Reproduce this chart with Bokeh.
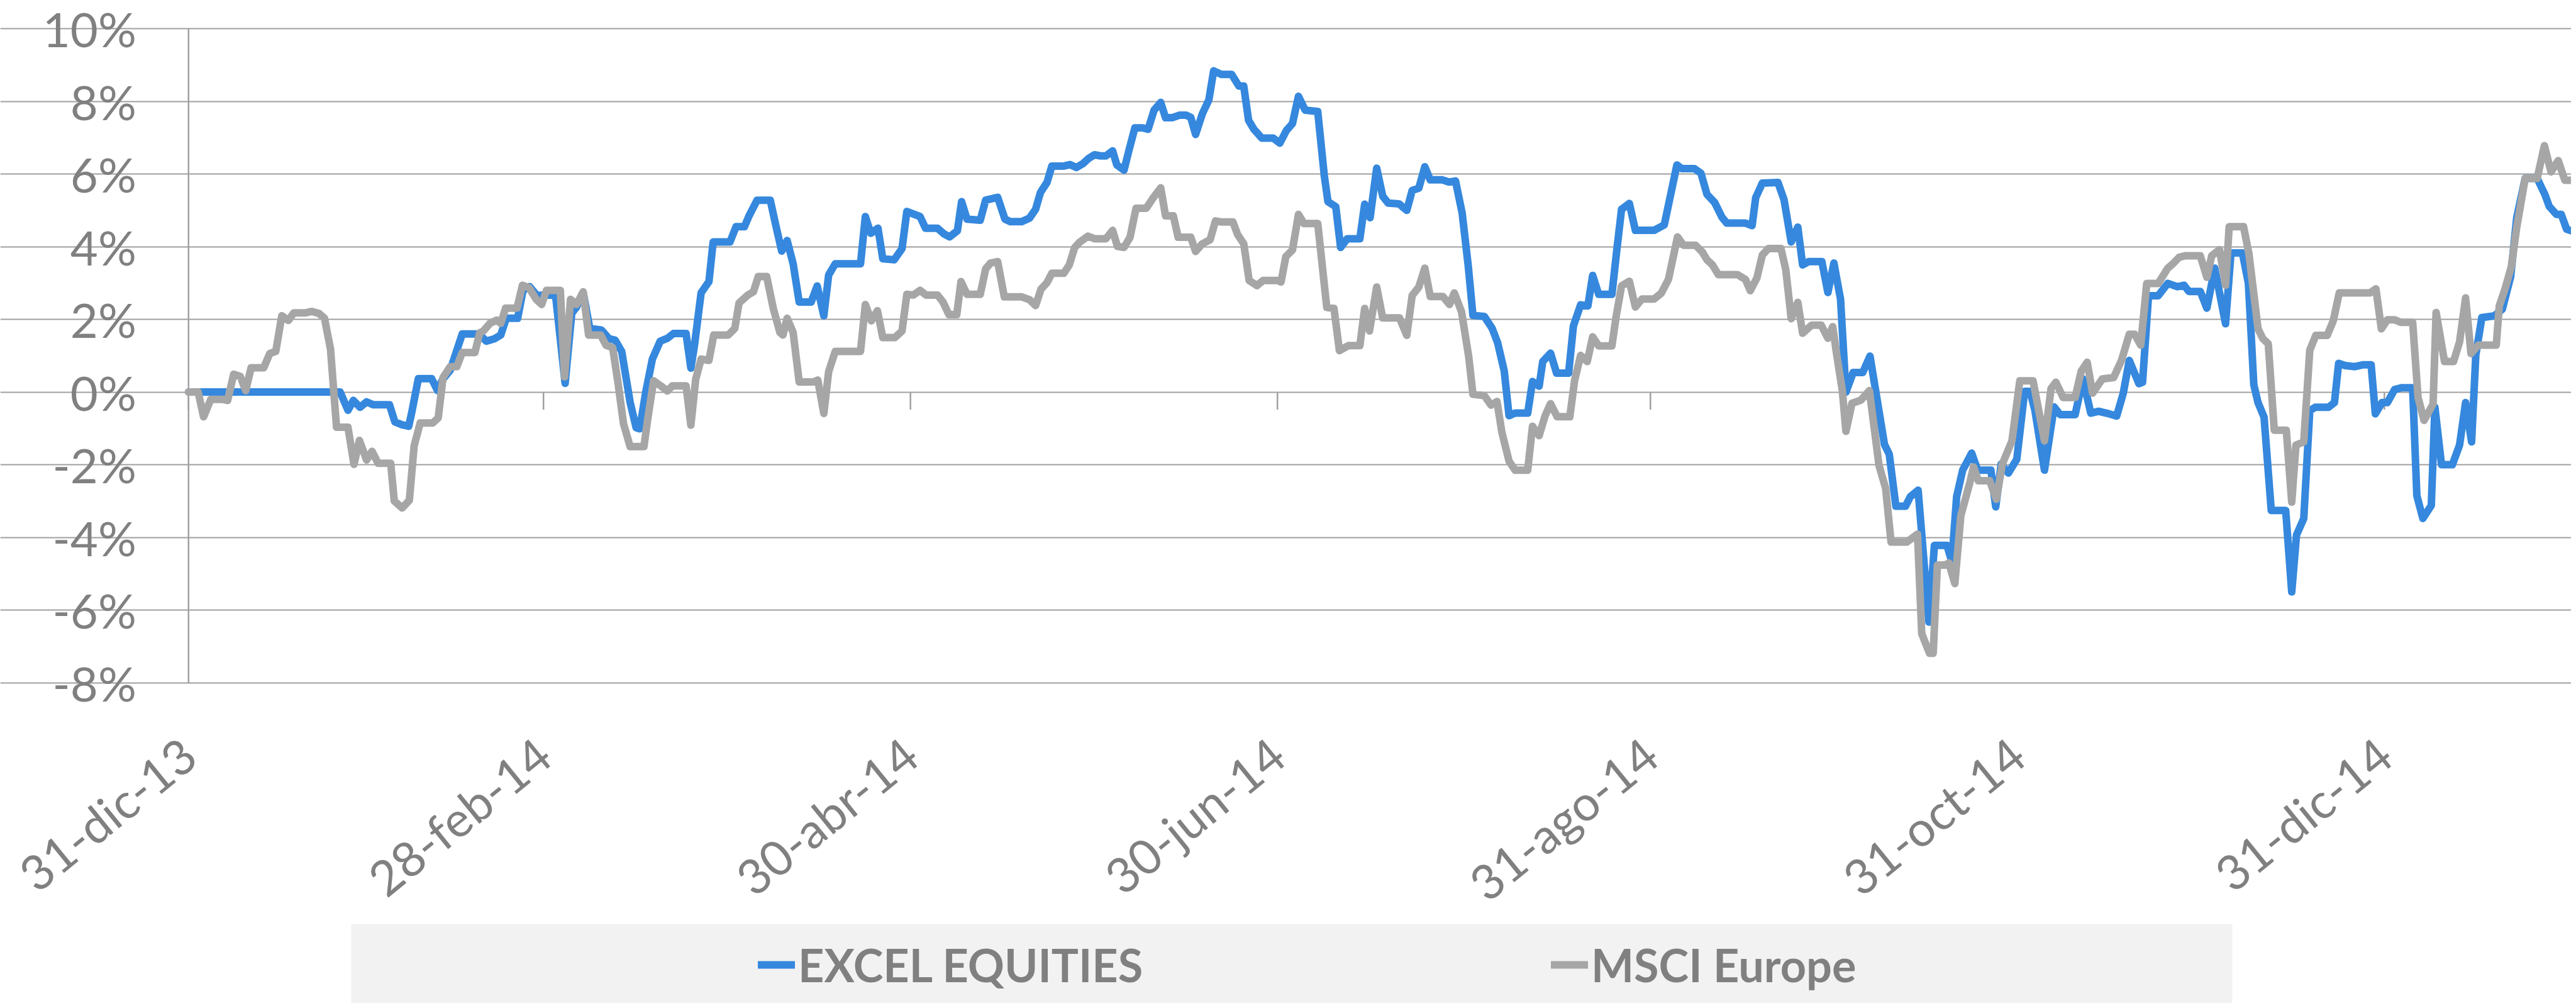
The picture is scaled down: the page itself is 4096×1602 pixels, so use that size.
import math
from bokeh.plotting import figure
from bokeh.models import (Range1d, FixedTicker, Legend, LegendItem, Grid,
                          ColumnDataSource, BoxAnnotation)
from bokeh.core.properties import value
from bokeh.embed import file_html
from bokeh.resources import INLINE

# ---------------- data (day offset from 31-dic-13, cumulative return in %) ----------------
EXCEL_DAYS = [0, 25.2, 26.5, 27.4, 28.5, 29.6, 30.7, 33.4, 34.3, 35.5, 36.6, 37.1, 38.2, 40.4, 41.4, 42.2,
              43.5, 45.5, 47.9, 48.3, 49.5, 50.9, 51.9, 52.8, 54.7, 55.6, 56.7, 57.9, 59.2, 61.0, 62.6,
              63.7, 64.5, 65.6, 66.7, 68.6, 69.9, 70.9, 72.0, 73.4, 74.4, 75.0, 76.0, 77.1, 78.4, 79.6,
              80.6, 82.7, 83.5, 84.1, 85.2, 86.5, 87.2, 90.0, 91.0, 92.4, 93.2, 94.5, 96.7, 97.6, 98.6,
              99.5, 100.5, 101.5, 103.5, 104.5, 105.6, 106.4, 107.5, 111.7, 112.5, 113.4, 114.6, 115.4,
              117.3, 118.6, 119.4, 121.6, 122.5, 124.5, 125.6, 126.5, 127.8, 128.5, 129.4, 131.6, 132.5,
              134.5, 135.7, 136.6, 138.5, 139.8, 140.8, 141.6, 142.7, 143.5, 145.5, 146.5, 147.6, 148.7,
              149.6, 150.6, 151.6, 152.5, 153.6, 154.3, 155.5, 156.3, 157.3, 158.6, 159.5, 160.5, 161.6,
              162.4, 163.5, 164.7, 165.8, 166.6, 167.4, 168.5, 169.6, 170.4, 171.7, 173.4, 174.6, 175.4,
              176.2, 177.1, 178.4, 180.3, 181.4, 182.5, 183.5, 184.5, 185.6, 187.7, 188.8, 189.4, 190.7,
              191.5, 192.6, 194.7, 195.5, 196.4, 197.5, 198.5, 199.4, 201.2, 202.5, 203.4, 204.5, 205.5,
              206.4, 208.4, 209.5, 210.6, 211.7, 212.7, 213.5, 215.4, 216.7, 217.6, 218.7, 219.5, 220.5,
              222.6, 223.4, 224.5, 225.1, 226.4, 227.4, 229.4, 230.2, 231.4, 232.6, 233.4, 234.4, 236.6,
              237.4, 238.2, 239.5, 240.5, 243.6, 244.6, 245.3, 247.4, 248.2, 250.3, 251.4, 252.4, 253.7,
              254.9, 255.7, 258.8, 259.9, 260.5, 261.6, 264.2, 265.2, 266.4, 267.5, 268.3, 269.3, 271.5,
              272.5, 273.5, 274.6, 275.5, 276.7, 278.3, 279.5, 281.1, 281.9, 282.7, 283.8, 285.4, 286.2,
              287.5, 289.3, 290.2, 292.3, 293.1, 293.9, 294.9, 296.4, 297.4, 299.6, 300.4, 301.3, 302.5,
              303.9, 305.2, 306.1, 306.9, 308.5, 310.1, 311.1, 313.6, 314.9, 316.2, 317.5, 318.8, 320.5,
              321.6, 322.6, 324.2, 324.8, 325.8, 327.4, 329.0, 330.6, 331.7, 332.5, 334.4, 335.5, 336.8,
              338.6, 339.5, 341.4, 342.4, 343.3, 344.0, 345.0, 346.2, 348.6, 349.6, 350.4, 351.6, 352.6,
              353.5, 355.7, 356.7, 357.4, 358.5, 360.1, 361.4, 362.8, 363.5, 364.6, 365.5, 366.7, 367.9,
              369.7, 370.4, 371.4, 372.8, 373.4, 374.5, 376.3, 377.5, 378.5, 379.5, 380.2, 381.2, 383.3,
              384.6, 386.0, 387.0, 388.4, 390.4, 391.7, 392.4, 393.6, 394.4, 395.3, 396.1]
EXCEL_VALUES = [0, 0, -0.5, -0.23, -0.42, -0.27, -0.35, -0.35, -0.82, -0.9, -0.94, -0.56, 0.37, 0.37, 0.04, 0.34,
                0.6, 1.6, 1.6, 1.6, 1.4, 1.47, 1.57, 2.03, 2.03, 2.8, 2.9, 2.66, 2.67, 2.67, 0.24,
                2.17, 2.34, 2.73, 1.75, 1.71, 1.47, 1.43, 1.12, -0.28, -0.98, -1.01, 0.0, 0.91, 1.4, 1.48,
                1.61, 1.61, 0.66, 1.29, 2.73, 3.04, 4.13, 4.13, 4.55, 4.55, 4.86, 5.28, 5.28, 4.6, 3.88,
                4.17, 3.53, 2.48, 2.48, 2.92, 2.1, 3.22, 3.53, 3.53, 4.83, 4.37, 4.51, 3.67,
                3.64, 3.95, 4.97, 4.83, 4.51, 4.51, 4.35, 4.27, 4.44, 5.24, 4.76, 4.73, 5.28,
                5.36, 4.76, 4.69, 4.69, 4.79, 5.03, 5.49, 5.77, 6.22, 6.22, 6.26, 6.18, 6.29,
                6.43, 6.53, 6.5, 6.5, 6.64, 6.25, 6.11, 6.64, 7.27, 7.27, 7.23, 7.76, 7.97,
                7.55, 7.55, 7.62, 7.62, 7.56, 7.09, 7.65, 8.04, 8.84, 8.74, 8.74, 8.42, 8.42,
                7.48, 7.23, 6.99, 6.99, 6.85, 7.2, 7.39, 8.14, 7.76, 7.72, 5.94, 5.24, 5.1,
                3.98, 4.22, 4.22, 5.17, 4.8, 6.16, 5.39, 5.2, 5.18, 5.0, 5.55, 5.61, 6.2,
                5.84, 5.84, 5.78, 5.81, 4.93, 3.5, 2.11, 2.08, 1.75, 1.36, 0.58, -0.65, -0.58,
                -0.58, 0.29, 0.16, 0.84, 1.07, 0.52, 0.52, 1.82, 2.4, 2.37, 3.21, 2.69, 2.69,
                3.89, 5.03, 5.19, 4.45, 4.45, 4.54, 4.6, 6.25, 6.15, 6.15, 6.02, 5.44, 5.21,
                4.81, 4.65, 4.65, 4.58, 5.35, 5.75, 5.77, 5.3, 4.13, 4.54, 3.5, 3.59, 3.59,
                2.74, 3.55, 2.56, 0.0, 0.54, 0.54, 0.99, -0.63, -1.44, -1.71, -3.14, -3.14, -2.88,
                -2.7, -6.33, -4.22, -4.22, -4.67, -2.88, -2.15, -1.68, -2.15, -2.15, -3.16, -1.98, -2.23,
                -1.85, 0.02, 0.02, -0.49, -2.15, -0.41, -0.62, -0.62, 0.36, -0.58, -0.53, -0.58, -0.66,
                -0.03, 0.87, 0.23, 0.27, 2.65, 2.65, 2.99, 2.9, 2.94, 2.77, 2.77, 2.31, 3.41,
                1.88, 3.83, 3.83, 2.99, 0.2, -0.29, -0.69, -3.26, -3.26, -5.5, -3.93, -3.48, -0.51,
                -0.42, -0.42, -0.29, 0.79, 0.73, 0.7, 0.75, 0.75, -0.6, -0.29, -0.29, 0.07, 0.12,
                0.12, -2.85, -3.48, -3.12, -0.42, -2.0, -2.0, -1.46, -0.29, -1.37, 1.02, 2.05, 2.1,
                2.28, 3.18, 4.8, 5.88, 5.88, 5.43, 5.11, 4.89, 4.89, 4.48, 4.44]

MSCI_DAYS = [0, 1.6, 2.5, 3.7, 5.6, 6.5, 7.5, 8.6, 9.5, 10.4, 12.5, 13.5, 14.5, 15.5, 16.6, 17.5, 19.5, 20.5,
             21.7, 22.6, 23.6, 24.6, 26.5, 27.5, 28.4, 29.6, 30.5, 31.5, 33.6, 34.2, 35.5, 36.7, 37.5, 38.5,
             40.6, 41.5, 42.3, 43.5, 44.6, 45.5, 47.6, 48.4, 49.0, 50.1, 51.2, 51.9, 52.7, 54.6, 55.5, 56.6,
             57.8, 58.7, 59.5, 61.8, 62.5, 63.5, 64.5, 65.6, 66.5, 68.5, 69.4, 70.5, 71.4, 72.3, 73.4, 75.7,
             76.3, 77.3, 78.5, 79.6, 80.4, 82.7, 83.5, 84.3, 85.2, 86.5, 87.3, 89.7, 90.8, 91.5, 92.9, 93.9,
             94.7, 96.1, 97.2, 98.3, 98.8, 99.5, 100.5, 101.5, 103.9, 104.6, 105.6, 106.4, 107.5, 111.7, 112.5,
             113.5, 114.5, 115.4, 117.4, 118.6, 119.4, 120.5, 121.6, 122.6, 124.5, 125.4, 126.4, 127.7, 128.4,
             129.4, 131.6, 132.5, 133.3, 134.5, 135.6, 138.5, 139.8, 140.8, 141.7, 142.7, 143.5, 145.5, 146.4,
             147.3, 148.1, 149.5, 150.6, 152.5, 153.6, 154.4, 155.5, 156.5, 157.5, 159.2, 160.2, 161.6, 162.4,
             163.7, 164.5, 166.6, 167.4, 168.5, 169.8, 170.7, 171.7, 173.6, 174.4, 175.4, 176.3, 177.6, 178.6,
             181.0, 181.6, 182.4, 183.5, 184.5, 185.4, 187.7, 189.2, 190.4, 191.3, 192.8, 194.7, 195.5, 196.3,
             197.5, 198.5, 201.3, 202.5, 203.4, 204.5, 205.5, 206.4, 208.5, 209.6, 210.4, 211.6, 212.8, 213.5,
             215.4, 216.5, 217.5, 218.3, 219.5, 220.5, 222.6, 223.4, 224.5, 225.5, 226.4, 227.5, 229.6, 230.4,
             231.4, 232.5, 233.4, 234.4, 236.6, 237.3, 238.2, 239.5, 240.5, 241.6, 243.6, 244.8, 246.0, 247.5,
             248.5, 250.5, 251.6, 252.4, 253.3, 254.3, 257.5, 258.8, 259.6, 260.7, 261.6, 262.6, 264.7, 265.5,
             266.4, 267.5, 268.3, 269.8, 271.4, 272.5, 273.3, 274.0, 274.9, 275.5, 276.5, 278.0, 279.4, 280.2,
             281.0, 282.1, 283.0, 285.6, 287.4, 288.1, 289.4, 290.0, 290.7, 292.0, 292.6, 293.6, 294.6, 296.1,
             296.7, 297.5, 299.4, 300.5, 301.5, 303.1, 304.4, 306.6, 308.5, 309.6, 310.4, 311.6, 313.6, 314.6,
             315.6, 316.5, 318.1, 320.0, 321.3, 322.6, 323.5, 324.5, 325.5, 327.4, 329.0, 329.9, 330.9, 331.9,
             334.4, 335.5, 336.3, 337.6, 338.6, 339.2, 341.6, 342.5, 344.0, 344.8, 345.7, 346.7, 348.7, 349.6,
             350.3, 351.6, 352.6, 353.6, 355.5, 356.5, 357.5, 362.6, 363.6, 364.5, 365.5, 366.7, 367.7, 369.7,
             370.6, 371.6, 373.1, 373.6, 375.0, 376.5, 377.5, 378.5, 379.4, 380.6, 383.6, 384.1, 385.1, 386.1,
             387.0, 388.4, 390.4, 391.6, 392.7, 393.9, 395.0, 396.1]
MSCI_VALUES = [0, 0, -0.68, -0.2, -0.2, -0.23, 0.49, 0.43, 0.04, 0.67, 0.67, 1.06, 1.12, 2.1, 1.97, 2.18, 2.18, 2.22,
               2.16, 2.03, 1.18, -0.97, -0.97, -1.99, -1.33, -1.87, -1.63, -1.96, -1.96, -3.0, -3.19, -2.98, -1.48, -0.85,
               -0.85, -0.71, 0.4, 0.7, 0.7, 1.09, 1.09, 1.63, 1.68, 1.89, 1.98, 1.89, 2.31, 2.31, 2.94, 2.87,
               2.55, 2.41, 2.8, 2.8, 0.42, 2.55, 2.41, 2.76, 1.57, 1.57, 1.29, 1.22, 0.24, -0.87, -1.5, -1.5,
               -0.77, 0.31, 0.17, 0.03, 0.17, 0.17, -0.91, 0.35, 0.91, 0.87, 1.57, 1.57, 1.75, 2.45, 2.66, 2.76,
               3.18, 3.18, 2.3, 1.64, 1.57, 2.03, 1.64, 0.28, 0.28, 0.33, -0.59, 0.56, 1.12, 1.12, 2.41,
               1.96, 2.24, 1.5, 1.5, 1.68, 2.69, 2.67, 2.8, 2.67, 2.67, 2.48, 2.13, 2.13, 3.04,
               2.69, 2.69, 3.39, 3.55, 3.59, 2.62, 2.62, 2.54, 2.38, 2.83, 3.01, 3.27, 3.27, 3.5,
               3.98, 4.12, 4.29, 4.22, 4.22, 4.45, 4.01, 3.98, 4.26, 5.06, 5.06, 5.31, 5.62, 4.85,
               4.85, 4.26, 4.26, 3.87, 4.08, 4.19, 4.71, 4.68, 4.68, 4.33, 4.08, 3.07, 2.93, 3.07,
               3.07, 3.03, 3.73, 3.91, 4.89, 4.64, 4.64, 2.33, 2.3, 1.14, 1.28, 1.28, 2.3, 1.68,
               2.89, 2.04, 2.04, 1.56, 2.66, 2.89, 3.41, 2.63, 2.63, 2.41, 2.73, 2.21, 0.97, -0.06,
               -0.1, -0.36, -0.26, -1.1, -1.9, -2.15, -2.15, -0.94, -1.2, -0.65, -0.32, -0.68, -0.68, 0.32,
               1.01, 0.84, 1.52, 1.27, 1.27, 2.08, 2.92, 3.05, 2.34, 2.56, 2.56, 2.72, 3.1, 4.27,
               4.04, 4.04, 3.86, 3.64, 3.5, 3.23, 3.23, 3.1, 2.79, 3.14, 3.77, 3.95, 3.95, 3.37,
               2.02, 2.47, 1.62, 1.84, 1.84, 1.48, 1.8, 0.99, 0.04, -1.08, -0.31, -0.22, 0.04, -0.99,
               -2.02, -2.65, -4.13, -4.13, -3.91, -6.65, -7.19, -7.19, -4.76, -4.76, -4.7, -5.27, -3.4, -2.49,
               -2.06, -2.44, -2.44, -2.95, -1.98, -1.34, 0.31, 0.31, -1.34, 0.1, 0.27, -0.15, -0.15, 0.57,
               0.82, -0.03, 0.36, 0.4, 0.87, 1.59, 1.59, 1.29, 2.99, 2.99, 3.41, 3.54, 3.71, 3.75,
               3.75, 3.16, 3.75, 3.92, 2.94, 4.55, 4.55, 3.79, 1.74, 1.47, 1.33, -1.05, -1.05, -3.03,
               -1.46, -1.37, 1.15, 1.56, 1.56, 1.96, 2.73, 2.73, 2.84, 1.74, 1.99, 1.99, 1.92, 1.92,
               -0.15, -0.78, -0.33, 2.19, 0.84, 0.84, 1.38, 2.59, 1.06, 1.29, 1.29, 2.37, 2.86, 3.45,
               4.53, 5.88, 5.88, 6.78, 6.06, 6.37, 5.83, 5.83]

TICK_DAYS = [0, 59, 120, 181, 243, 304, 365]
TICK_LABELS = ["31-dic-13", "28-feb-14", "30-abr-14", "30-jun-14", "31-ago-14", "31-oct-14", "31-dic-14"]
Y_TICKS = [-8, -6, -4, -2, 0, 2, 4, 6, 8, 10]
Y_LABELS = ["%d%%" % t for t in Y_TICKS]
SERIES_NAMES = ["EXCEL EQUITIES", "MSCI Europe"]

# ---------------- styles / geometry (pixels) ----------------
BLUE = "#3588DD"
GRAY = "#A6A6A6"
GRID = "#A0A0A0"
TEXT = "#808080"
FONT = "Lato"

FIG_W, FIG_H = 4088, 1594
AXIS_X_PX = 299.3              # pixel column of the vertical axis
AXIS_TOP_PX = 45.1             # pixel row of the 10 % line
AXIS_BOTTOM_PX = 1084.6        # pixel row of the -8 % line
X_END = 396.07                 # last visible day at the right edge
Y_MIN, Y_MAX = Y_TICKS[0], Y_TICKS[-1]
PX_PER_PCT = (AXIS_BOTTOM_PX - AXIS_TOP_PX) / (Y_MAX - Y_MIN)
PX_PER_DAY = (FIG_W - AXIS_X_PX) / X_END


def day_at(px):
    return (px - AXIS_X_PX) / PX_PER_DAY


def pct_at(py):
    return Y_MAX - (py - AXIS_TOP_PX) / PX_PER_PCT


Y_TICK_OUT_PX = 27
Y_LABEL_GAP_PX = 83            # axis line to right edge of % labels
X_LABEL_DROP_PX = 103          # -8 % line to date-label anchor
X_TICK_LEN_PX = 28             # tick marks hanging under the 0 % line
LABEL_ANGLE = math.radians(39)
LEG_BOX_LEFT, LEG_BOX_RIGHT, LEG_BOX_TOP = 558, 3549, 1468

p = figure(width=FIG_W, height=FIG_H, output_backend="svg", toolbar_location=None,
           x_range=Range1d(day_at(0), day_at(FIG_W)), y_range=Range1d(pct_at(FIG_H), pct_at(0)),
           x_axis_location=None, y_axis_location=None,
           min_border_left=0, min_border_right=0, min_border_top=0, min_border_bottom=0,
           outline_line_color=None, background_fill_color="white", border_fill_color="white")
p.grid.visible = False          # drop the default grids

# horizontal gridlines (they start at the outer end of the y tick marks)
p.add_layout(Grid(dimension=1, ticker=FixedTicker(ticks=Y_TICKS),
                  bounds=(day_at(AXIS_X_PX - Y_TICK_OUT_PX), X_END),
                  grid_line_color=GRID, grid_line_width=2.2))

# legend background strip
p.add_layout(BoxAnnotation(left=day_at(LEG_BOX_LEFT), right=day_at(LEG_BOX_RIGHT),
                           top=pct_at(LEG_BOX_TOP),
                           fill_color="#F2F2F2", fill_alpha=1.0, line_color=None, level="underlay"))

# vertical value axis line
p.segment(x0=[TICK_DAYS[0]], y0=[Y_MIN], x1=[TICK_DAYS[0]], y1=[Y_MAX], line_color=GRID, line_width=2.5)

# value labels
ylab_src = ColumnDataSource(data=dict(x=[TICK_DAYS[0]] * len(Y_TICKS), y=Y_TICKS, label=Y_LABELS))
p.text(x="x", y="y", text="label", source=ylab_src, x_offset=-Y_LABEL_GAP_PX,
       text_align="right", text_baseline="middle",
       text_font=value(FONT), text_font_size=value("76px"), text_color=TEXT)

# date tick marks hanging below the 0 % line
tick_len = X_TICK_LEN_PX / PX_PER_PCT
p.segment(x0=TICK_DAYS, y0=[0] * len(TICK_DAYS), x1=TICK_DAYS, y1=[-tick_len] * len(TICK_DAYS),
          line_color=GRID, line_width=2.5)

# rotated date labels
xlab_src = ColumnDataSource(data=dict(x=TICK_DAYS, label=TICK_LABELS,
                                      y=[Y_MIN - X_LABEL_DROP_PX / PX_PER_PCT] * len(TICK_DAYS)))
p.text(x="x", y="y", text="label", source=xlab_src, angle=LABEL_ANGLE,
       text_align="right", text_baseline="middle",
       text_font=value(FONT), text_font_size=value("77px"), text_color=TEXT)

r1 = p.line(EXCEL_DAYS, EXCEL_VALUES, line_color=BLUE, line_width=12, line_join="round", line_cap="round")
r2 = p.line(MSCI_DAYS, MSCI_VALUES, line_color=GRAY, line_width=12, line_join="round", line_cap="round")

legend = Legend(items=[LegendItem(label=SERIES_NAMES[0], renderers=[r1]),
                       LegendItem(label=SERIES_NAMES[1], renderers=[r2])],
                orientation="horizontal", location=(1205, 18),
                padding=0, margin=0, spacing=497,
                glyph_width=59, glyph_height=86, label_width=700, label_height=86, label_standoff=5,
                label_text_font=FONT, label_text_font_style="bold", label_text_font_size="72px",
                label_text_color=TEXT, background_fill_alpha=0, border_line_color=None)
p.add_layout(legend)

open("out.html", "w").write(file_html(p, INLINE))
